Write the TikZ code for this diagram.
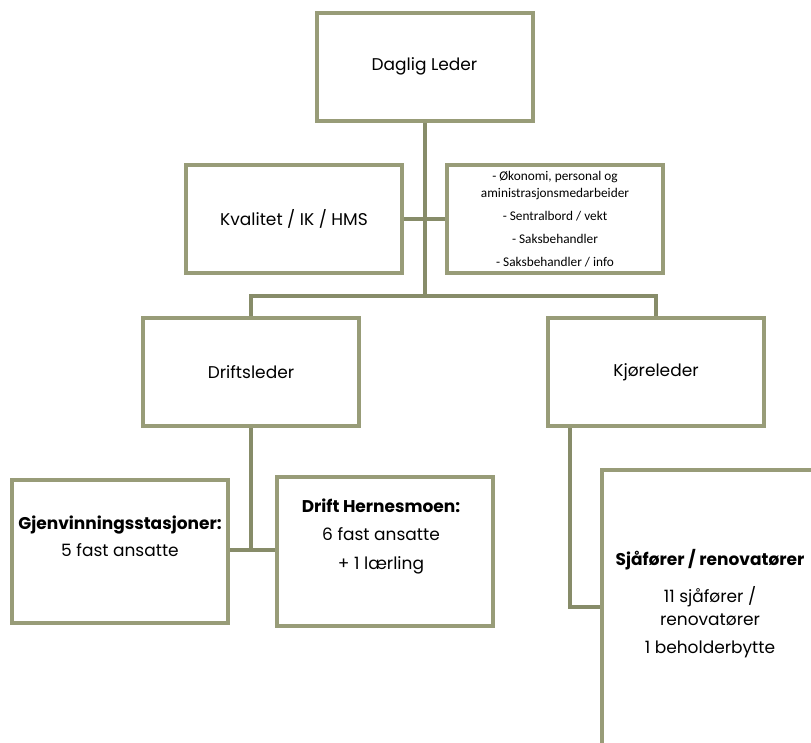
\documentclass[tikz,border=0pt]{standalone}
\usepackage{fontspec}
\setmainfont{Poppins}
\newfontfamily\calib{Carlito}
\definecolor{boxborder}{RGB}{152,156,120}
\definecolor{connline}{RGB}{135,140,105}
\begin{document}
\begin{tikzpicture}[x=1pt,y=-1pt,
  orgbox/.style={draw=boxborder,line width=4pt,fill=white,inner sep=0pt,
    minimum width=216pt,minimum height=108pt,align=center,font=\fontsize{17}{23}\selectfont},
  conn/.style={draw=connline,line width=4pt},
  txt/.style={inner sep=0pt,align=center,font=\fontsize{17}{23}\selectfont}]
\useasboundingbox (0,0) rectangle (811,742);
\clip (0,0) rectangle (811,742);
% boxes
\node[orgbox] (leder) at (424.5,66.5) {Daglig Leder};
\node[orgbox] (kval) at (294,219) {Kvalitet / IK / HMS};
\node[orgbox,font=\calib\fontsize{13.3}{16.5}\selectfont] (adm) at (555,219)
  {- Økonomi, personal og\\aministrasjonsmedarbeider\\[6.5pt]- Sentralbord / vekt\\[6.5pt]- Saksbehandler\\[6.5pt]- Saksbehandler / info};
\node[orgbox] (drift) at (251,372) {Driftsleder};
\node[orgbox] (kjor) at (656,372) {Kjøreleder};
\node[orgbox,minimum height=143pt] (gjen) at (120,551.5) {};
\node[txt] (gjentxt) at (120,536) {\textbf{Gjenvinningsstasjoner:}\\[4pt]5 fast ansatte};
\node[orgbox,minimum height=149pt] (hern) at (385,551) {};
\node[txt] (herntxt) at (381,536) {\textbf{Drift Hernesmoen:}\\[5.5pt]6 fast ansatte\\[5.5pt]+ 1 lærling};
\node[orgbox,minimum height=340pt] (sjaf) at (710,640) {};
\node[txt] (sjaftxt) at (710,604) {\textbf{Sjåfører / renovatører}\\[14pt]11 sjåfører /\\renovatører\\[5pt]1 beholderbytte};
% connectors
\coordinate (hub) at (leder.south |- 0,296);
\draw[conn] (leder.south) -- (hub);
\draw[conn] (kval.east) -- (kval.east -| adm.west);
\draw[conn] (drift.north) |- (hub) -| (kjor.north);
\draw[conn] (drift.south) |- (hern.west |- 0,550) coordinate (dh);
\draw[conn] (gjen.east |- 0,550) -- (dh);
\draw[conn] (kjor.south -| 570,0) |- (sjaf.west |- 0,607);
\end{tikzpicture}
\end{document}
